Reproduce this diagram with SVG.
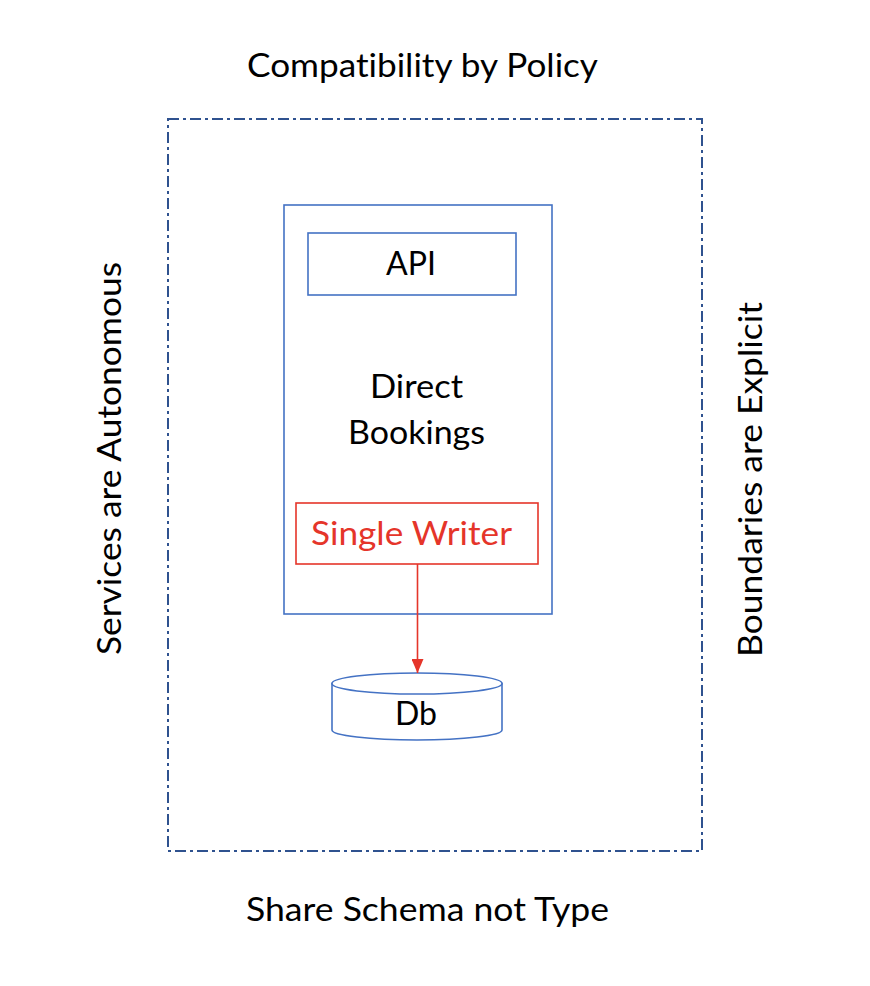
<svg xmlns="http://www.w3.org/2000/svg" width="870" height="986" viewBox="0 0 870 986">
  <style>
    text { font-family: "Lato", "Open Sans", "Liberation Sans", sans-serif; font-size: 32px; fill: #000; font-variant-ligatures: none; }
    .red { fill: #E5352A; }
    .box { fill: none; stroke: #4472C4; stroke-width: 1.6; }
    .redbox { fill: none; stroke: #E5352A; stroke-width: 1.6; }
    .outer { fill: none; stroke: #2F528F; stroke-width: 2; stroke-dasharray: 11 4 3 4; }
  </style>
  <defs>
    <marker id="arrow" markerWidth="14" markerHeight="12" refX="14" refY="6" orient="auto" markerUnits="userSpaceOnUse" viewBox="0 0 14 12">
      <polygon points="0,0 14,6 0,12" fill="#E5352A"/>
    </marker>
  </defs>
  <rect width="870" height="986" fill="#fff"/>

  <g id="boundary">
    <rect class="outer" x="168" y="119" width="534" height="732"/>
  </g>

  <g id="title-top">
    <text x="422.5" y="77" text-anchor="middle" textLength="351" lengthAdjust="spacingAndGlyphs">Compatibility by Policy</text>
  </g>
  <g id="title-bottom">
    <text x="427.5" y="921" text-anchor="middle" textLength="363" lengthAdjust="spacingAndGlyphs">Share Schema not Type</text>
  </g>
  <g id="title-left">
    <text transform="translate(121,458.5) rotate(-90)" x="0" y="0" text-anchor="middle" textLength="393" lengthAdjust="spacingAndGlyphs">Services are Autonomous</text>
  </g>
  <g id="title-right">
    <text transform="translate(762,479.5) rotate(-90)" x="0" y="0" text-anchor="middle" textLength="355" lengthAdjust="spacingAndGlyphs">Boundaries are Explicit</text>
  </g>

  <g id="service">
    <rect class="box" x="284" y="205" width="268" height="409"/>
    <text x="416.5" y="398" text-anchor="middle" textLength="93" lengthAdjust="spacingAndGlyphs">Direct</text>
    <text x="416.5" y="444" text-anchor="middle" textLength="137" lengthAdjust="spacingAndGlyphs">Bookings</text>
  </g>

  <g id="api">
    <rect class="box" x="308" y="233" width="208" height="62"/>
    <text x="411" y="275" text-anchor="middle" textLength="50" lengthAdjust="spacingAndGlyphs">API</text>
  </g>

  <g id="single-writer">
    <rect class="redbox" x="296" y="503" width="242" height="61"/>
    <text class="red" x="411.5" y="545" text-anchor="middle" textLength="201" lengthAdjust="spacingAndGlyphs">Single Writer</text>
  </g>

  <g id="db">
    <path d="M332,683.5 L332,730 A85,10 0 0 0 502,730 L502,683.5 Z" fill="#fff" stroke="#4472C4" stroke-width="1.6"/>
    <ellipse cx="417" cy="683.5" rx="85" ry="10.5" fill="#fff" stroke="#4472C4" stroke-width="1.6"/>
    <text x="416" y="725" text-anchor="middle" textLength="42" lengthAdjust="spacingAndGlyphs">Db</text>
  </g>

  <g id="connectors">
    <line x1="417.5" y1="564" x2="417.5" y2="673" stroke="#E5352A" stroke-width="1.6" marker-end="url(#arrow)"/>
  </g>
</svg>
